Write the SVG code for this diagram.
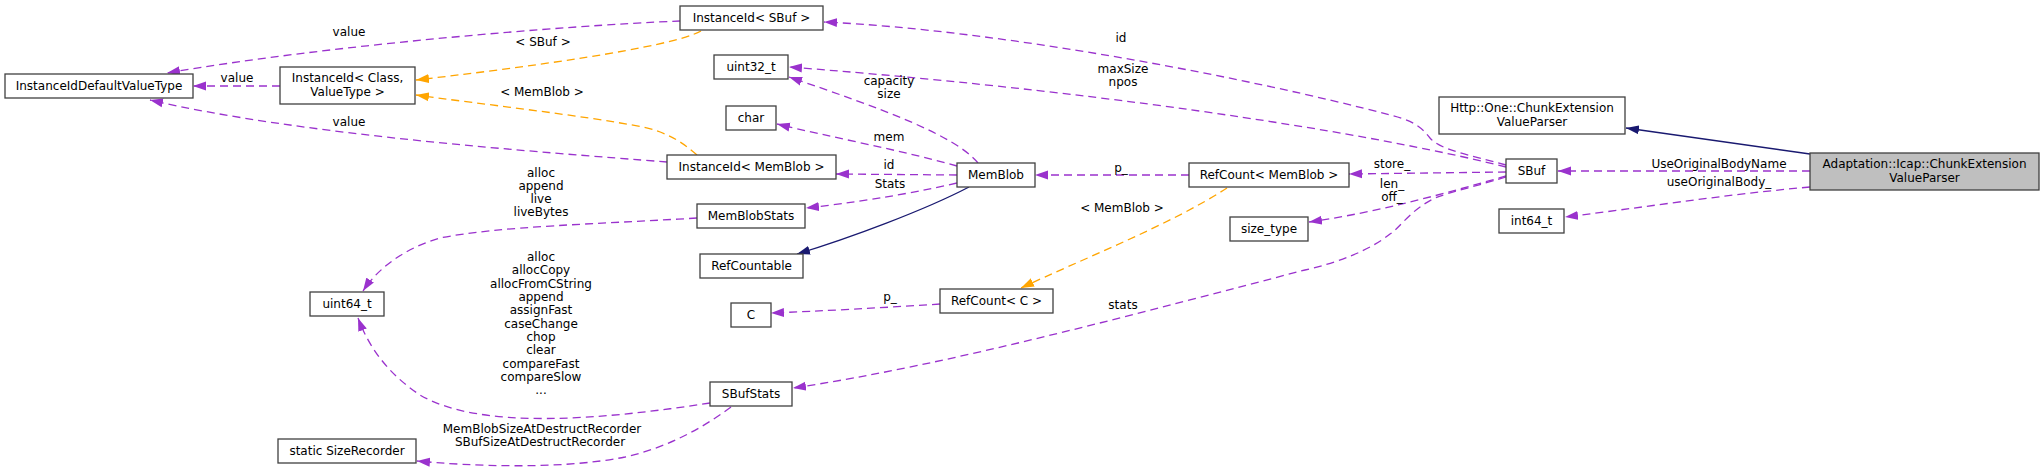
<svg xmlns="http://www.w3.org/2000/svg" width="2044" height="470" viewBox="0 0 2044 470">
<style>
text{font-family:"DejaVu Sans","Liberation Sans",sans-serif;font-size:12px;fill:#000;text-anchor:middle}
.n{fill:#fff;stroke:#404040;stroke-width:1.3}
.g{fill:#bfbfbf;stroke:#404040;stroke-width:1.3}
.p{fill:none;stroke:#9a32cd;stroke-width:1.3;stroke-dasharray:8,5;marker-end:url(#ap)}
.o{fill:none;stroke:#ffa500;stroke-width:1.3;stroke-dasharray:8,5;marker-end:url(#ao)}
.b{fill:none;stroke:#191970;stroke-width:1.3;marker-end:url(#ab)}
</style>
<defs>
<marker id="ap" markerUnits="userSpaceOnUse" markerWidth="14" markerHeight="10" refX="13" refY="5" orient="auto"><path d="M0,0.5 L13,5 L0,9.5 z" fill="#9a32cd"/></marker>
<marker id="ao" markerUnits="userSpaceOnUse" markerWidth="14" markerHeight="10" refX="13" refY="5" orient="auto"><path d="M0,0.5 L13,5 L0,9.5 z" fill="#ffa500"/></marker>
<marker id="ab" markerUnits="userSpaceOnUse" markerWidth="14" markerHeight="10" refX="13" refY="5" orient="auto"><path d="M0,0.5 L13,5 L0,9.5 z" fill="#191970"/></marker>
</defs>
<rect width="2044" height="470" fill="#fff"/>
<g id="connectors">
<path class="p" d="M680,21 C560,26 330,45 167,73"/>
<path class="p" d="M280,86 L193,86"/>
<path class="p" d="M667,162 C540,152 300,135 150,100"/>
<path class="o" d="M701,31 C670,48 520,68 416,80"/>
<path class="o" d="M697,155 C680,140 665,132 643,127 C580,115 480,104 416,95"/>
<path class="p" d="M1506,165 C1470,155 1440,150 1430,138 C1420,125 1410,120 1390,115 C1250,78 1000,30 824,22"/>
<path class="p" d="M1506,167 C1400,140 1150,95 789,67"/>
<path class="p" d="M1506,172 L1349,174"/>
<path class="p" d="M1506,176 C1450,192 1380,212 1309,222"/>
<path class="p" d="M1506,177 C1470,188 1450,192 1435,198 C1410,210 1400,228 1390,234 C1370,250 1340,262 1305,270 C1150,310 950,365 793,388"/>
<path class="p" d="M978,163 C955,135 880,108 789,77"/>
<path class="p" d="M957,166 C900,150 830,137 777,124"/>
<path class="p" d="M957,175 L836,174"/>
<path class="p" d="M957,183 C900,196 850,203 806,208"/>
<path class="b" d="M969,187 C925,210 850,238 797,254"/>
<path class="p" d="M1189,175 L1035,175"/>
<path class="o" d="M1227,188 C1170,225 1080,260 1021,288"/>
<path class="p" d="M940,304 C880,308 820,311 771,313"/>
<path class="p" d="M697,218 C600,224 500,226 440,238 C405,248 378,268 363,291"/>
<path class="p" d="M710,403 C600,420 480,430 420,395 C390,375 370,350 358,318"/>
<path class="p" d="M731,407 C700,430 665,448 625,457 C560,470 470,466 417,461"/>
<path class="b" d="M1810,154 L1626,128"/>
<path class="p" d="M1810,171 L1558,171"/>
<path class="p" d="M1810,187 C1720,195 1640,208 1565,217"/>
<text x="349" y="36">value</text>
<text x="543" y="46">&lt; SBuf &gt;</text>
<text x="237" y="82">value</text>
<text x="542" y="96">&lt; MemBlob &gt;</text>
<text x="349" y="126">value</text>
<text x="541" y="177">alloc</text>
<text x="541" y="190">append</text>
<text x="541" y="203">live</text>
<text x="541" y="216">liveBytes</text>
<text x="1121" y="42">id</text>
<text x="1123" y="73">maxSize</text>
<text x="1123" y="86">npos</text>
<text x="889" y="85">capacity</text>
<text x="889" y="98">size</text>
<text x="889" y="141">mem</text>
<text x="889" y="169">id</text>
<text x="890" y="188">Stats</text>
<text x="1121" y="172">p_</text>
<text x="1122" y="212">&lt; MemBlob &gt;</text>
<text x="1719" y="168">UseOriginalBodyName</text>
<text x="1719" y="186">useOriginalBody_</text>
<text x="1392" y="168">store_</text>
<text x="1392" y="188">len_</text>
<text x="1392" y="201">off_</text>
<text x="541" y="261">alloc</text>
<text x="541" y="274">allocCopy</text>
<text x="541" y="288">allocFromCString</text>
<text x="541" y="301">append</text>
<text x="541" y="314">assignFast</text>
<text x="541" y="328">caseChange</text>
<text x="541" y="341">chop</text>
<text x="541" y="354">clear</text>
<text x="541" y="368">compareFast</text>
<text x="541" y="381">compareSlow</text>
<text x="541" y="394">...</text>
<text x="542" y="433">MemBlobSizeAtDestructRecorder</text>
<text x="540" y="446">SBufSizeAtDestructRecorder</text>
<text x="890" y="301">p_</text>
<text x="1123" y="309">stats</text>
</g>
<g id="InstanceIdDefaultValueType"><rect class="n" x="5" y="74" width="188" height="24"/><text x="99" y="90">InstanceIdDefaultValueType</text></g>
<g id="InstanceIdClass"><rect class="n" x="280" y="67" width="135" height="37"/><text x="347.5" y="82">InstanceId&lt; Class,</text><text x="347.5" y="96">ValueType &gt;</text></g>
<g id="InstanceIdSBuf"><rect class="n" x="680" y="6" width="143" height="24"/><text x="751.5" y="22">InstanceId&lt; SBuf &gt;</text></g>
<g id="uint32_t"><rect class="n" x="714" y="55" width="74" height="24"/><text x="751" y="71">uint32_t</text></g>
<g id="char"><rect class="n" x="726" y="106" width="50" height="24"/><text x="751" y="122">char</text></g>
<g id="InstanceIdMemBlob"><rect class="n" x="667" y="155" width="169" height="24"/><text x="751.5" y="171">InstanceId&lt; MemBlob &gt;</text></g>
<g id="MemBlobStats"><rect class="n" x="697" y="204" width="108" height="24"/><text x="751" y="220">MemBlobStats</text></g>
<g id="RefCountable"><rect class="n" x="700" y="254" width="103" height="24"/><text x="751.5" y="270">RefCountable</text></g>
<g id="C"><rect class="n" x="731" y="303" width="40" height="24"/><text x="751" y="319">C</text></g>
<g id="SBufStats"><rect class="n" x="710" y="382" width="82" height="24"/><text x="751" y="398">SBufStats</text></g>
<g id="uint64_t"><rect class="n" x="310" y="292" width="74" height="24"/><text x="347" y="308">uint64_t</text></g>
<g id="SizeRecorder"><rect class="n" x="278" y="439" width="138" height="24"/><text x="347" y="455">static SizeRecorder</text></g>
<g id="MemBlob"><rect class="n" x="957" y="163" width="78" height="24"/><text x="996" y="179">MemBlob</text></g>
<g id="RefCountC"><rect class="n" x="940" y="289" width="113" height="24"/><text x="996.5" y="305">RefCount&lt; C &gt;</text></g>
<g id="RefCountMemBlob"><rect class="n" x="1189" y="163" width="160" height="24"/><text x="1269" y="179">RefCount&lt; MemBlob &gt;</text></g>
<g id="size_type"><rect class="n" x="1230" y="217" width="78" height="24"/><text x="1269" y="233">size_type</text></g>
<g id="SBuf"><rect class="n" x="1506" y="159" width="51" height="24"/><text x="1531.5" y="175">SBuf</text></g>
<g id="int64_t"><rect class="n" x="1499" y="209" width="65" height="24"/><text x="1531.5" y="225">int64_t</text></g>
<g id="HttpParser"><rect class="n" x="1439" y="97" width="186" height="37"/><text x="1532" y="112">Http::One::ChunkExtension</text><text x="1532" y="126">ValueParser</text></g>
<g id="AdaptationParser"><rect class="g" x="1810" y="153" width="229" height="37"/><text x="1924.5" y="168">Adaptation::Icap::ChunkExtension</text><text x="1924.5" y="182">ValueParser</text></g>
</svg>
